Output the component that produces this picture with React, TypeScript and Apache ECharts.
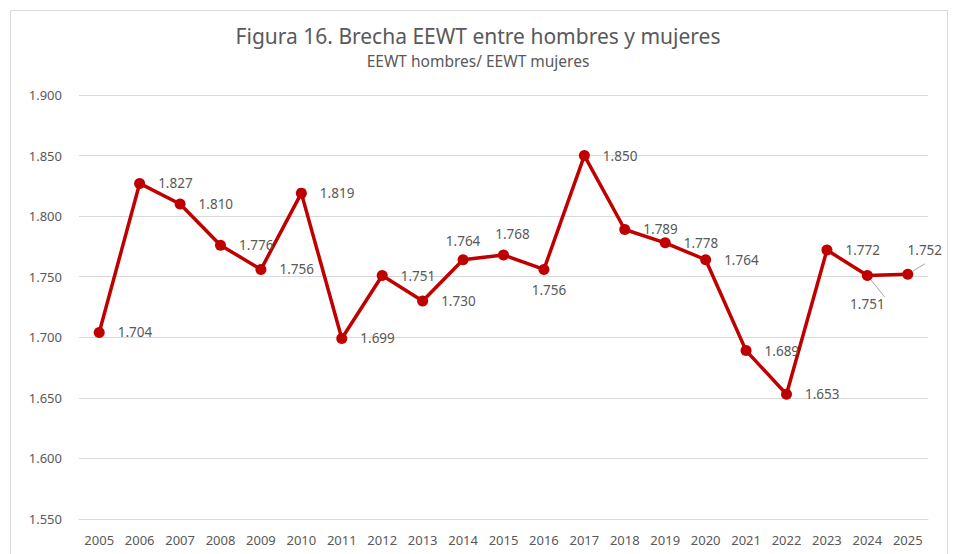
import React, { useEffect, useRef } from "react";
import * as echarts from "echarts";

const years = ["2005","2006","2007","2008","2009","2010","2011","2012","2013","2014","2015","2016","2017","2018","2019","2020","2021","2022","2023","2024","2025"];
const ratio = [1.704,1.827,1.810,1.776,1.756,1.819,1.699,1.751,1.730,1.764,1.768,1.756,1.850,1.789,1.778,1.764,1.689,1.653,1.772,1.751,1.752];
const yTicks = { min: 1.55, max: 1.9, interval: 0.05 };
const titleText = "Figura 16. Brecha EEWT entre hombres y mujeres";
const subtitleText = "EEWT hombres/ EEWT mujeres";

const FONT = "'Noto Sans', sans-serif";
const TXT = "#595959";
const RED = "#C00000";

export default function App() {
  const ref = useRef<HTMLDivElement>(null);
  useEffect(() => {
    if (!ref.current) return;
    const chart = echarts.init(ref.current, null, { renderer: "svg" });
    const data = ratio.map((v, i) => {
      const item: any = { value: v };
      if (i === 9) item.label = { position: "top", distance: 6 };
      if (i === 10) item.label = { position: "top", distance: 8, offset: [9, 0] };
      if (i === 11) item.label = { position: "bottom", distance: 8, offset: [5, 0] };
      if (i === 19) item.label = { position: "bottom", distance: 16 };
      if (i === 20) item.label = { position: "top", distance: 12, offset: [17, 0] };
      if (i === 19 || i === 20) item.labelLine = { show: true, lineStyle: { color: "#a6a6a6", width: 1 } };
      return item;
    });
    chart.setOption({
      animation: false,
      backgroundColor: "#ffffff",
      title: [
        { text: titleText, left: "center", top: 20, textStyle: { fontFamily: FONT, fontSize: 21, fontWeight: "normal", color: TXT } },
        { text: subtitleText, left: "center", top: 48, textStyle: { fontFamily: FONT, fontSize: 15.5, fontWeight: "normal", color: TXT } },
      ],
      graphic: [
        { type: "rect", shape: { x: 10.5, y: 10.5, width: 937, height: 600 }, style: { fill: "none", stroke: "#d9d9d9", lineWidth: 1 }, silent: true },
      ],
      grid: { left: 79, right: 28, top: 95, bottom: 35, containLabel: false },
      xAxis: {
        type: "category",
        data: years,
        boundaryGap: true,
        axisLine: { show: true, lineStyle: { color: "#d9d9d9" } },
        axisTick: { show: false },
        axisLabel: { color: TXT, fontFamily: FONT, fontSize: 13, margin: 14, interval: 0 },
      },
      yAxis: {
        type: "value",
        min: yTicks.min,
        max: yTicks.max,
        interval: yTicks.interval,
        axisLine: { show: false },
        axisTick: { show: false },
        splitLine: { lineStyle: { color: "#d9d9d9", width: 1 } },
        axisLabel: { color: TXT, fontFamily: FONT, fontSize: 13, margin: 17, formatter: (v: number) => v.toFixed(3) },
      },
      series: [
        {
          type: "line",
          data,
          symbol: "circle",
          symbolSize: 11,
          lineStyle: { color: RED, width: 3.5 },
          itemStyle: { color: RED },
          label: {
            show: true,
            position: "right",
            distance: 13,
            color: TXT,
            fontFamily: FONT,
            fontSize: 13.5,
            formatter: (p: any) => p.value.toFixed(3),
          },
        },
      ],
    });
    return () => chart.dispose();
  }, []);
  return <div ref={ref} style={{ width: 956, height: 554, position: "absolute", left: 0, top: 0 }} />;
}
